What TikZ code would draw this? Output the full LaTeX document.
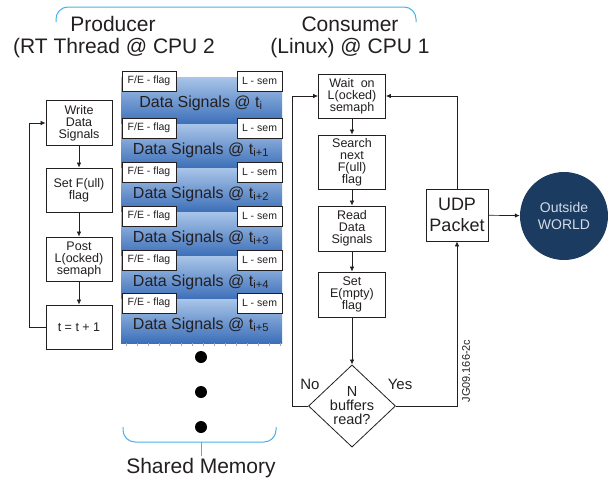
\documentclass[tikz,border=0pt]{standalone}
\usepackage{fontspec}
\setmainfont{Liberation Sans}
\usetikzlibrary{shapes.geometric,arrows.meta}
\definecolor{inkgray}{HTML}{231F20}
\definecolor{bracecyan}{HTML}{45B4E6}
\definecolor{memlight}{HTML}{A9C5E8}
\definecolor{memdark}{HTML}{3C6FB9}
\definecolor{worldnavy}{HTML}{1B3B60}
\definecolor{worldtext}{HTML}{D3DCE8}
\newcommand{\fsz}[1]{\fontsize{#1}{#1}\selectfont}
\begin{document}
\begin{tikzpicture}[x=1pt,y=-1pt,text=inkgray,
	flowbox/.style={draw=inkgray,line width=0.8pt,fill=white,align=center,inner sep=1pt,minimum width=66pt,font=\fontsize{12.5}{12}\selectfont},
	tagbox/.style={draw=inkgray,line width=0.8pt,fill=white,inner sep=1pt,minimum height=20pt,font=\fsz{10.5}},
	flow/.style={draw=inkgray,line width=0.7pt,-{Latex[length=5pt,width=4.5pt]}},
	brace/.style={draw=bracecyan,line width=1pt,rounded corners=12pt},
	title/.style={font=\fsz{21}}]
		\useasboundingbox (0,0) rectangle (610,485);
		
		% headings
		\draw[brace] (56,22) -- (56,7) -- (416,7) -- (416,22);
		\node[title] (prod) at (113,24) {Producer};
		\node[title] (prodcpu) at (114,48) {(RT Thread @ CPU 2};
		\node[title] (cons) at (350,24) {Consumer};
		\node[title] (conscpu) at (350,48) {(Linux) @ CPU 1};
		
		% shared memory buffers
		\foreach \f/\sub/\bot [count=\k] in {81/i/124,128/i+1/168,172/i+2/212,216/i+3/256,260/i+4/299,303/i+5/343}{
			\shade[top color=memlight,bottom color=memdark] (121,\f-4) rectangle (282,\bot);
			\node[tagbox,minimum width=54pt] (fe\k) at (149,\f) {F/E - flag};
			\node[tagbox,minimum width=45pt] (ls\k) at (259.5,\f) {L - sem};
			\node[font=\fsz{16}] (ds\k) at (201,\f+22) {Data Signals @ t\textsubscript{\sub}};
		}
		\foreach \x in {126,137,...,280}
			\draw[black!35,line width=0.4pt] (\x,343) -- (\x,346);
		\foreach \y in {357,392,427}
			\fill[black] (201,\y) circle (6pt);
		\draw[brace] (123,427) -- (123,442) -- (276,442) -- (276,427);
		\draw[bracecyan,line width=1pt] (201,442) -- (201,456);
		\node[font=\fsz{21}] (shmem) at (201,468) {Shared Memory};
		
		% producer loop
		\node[flowbox,minimum height=45pt] (write) at (79,123) {Write\\Data\\Signals};
		\node[flowbox,minimum height=44pt] (setfull) at (79,190) {Set F(ull)\\flag};
		\node[flowbox,minimum height=44pt] (post) at (79,259) {Post\\L(ocked)\\semaph};
		\node[flowbox,minimum height=44pt] (tinc) at (79,327) {t = t + 1};
		\draw[flow] (write) -- (setfull);
		\draw[flow] (setfull) -- (post);
		\draw[flow] (post) -- (tinc);
		\draw[flow] (tinc.west) -- ++(-16,0) |- (write.west);
		
		% consumer loop
		\node[flowbox,minimum width=67pt,minimum height=44pt] (wait) at (352,96) {Wait~ on\\L(ocked)\\semaph};
		\node[flowbox,minimum width=67pt,minimum height=54pt] (search) at (352,162) {Search\\next\\F(ull)\\flag};
		\node[flowbox,minimum width=67pt,minimum height=45pt] (read) at (352,228.5) {Read\\Data\\Signals};
		\node[flowbox,minimum width=67pt,minimum height=45pt] (setempty) at (352,294.5) {Set\\E(mpty)\\flag};
		\node[diamond,draw=inkgray,line width=0.8pt,minimum width=87pt,minimum height=70pt,inner sep=0pt,align=center,font=\fontsize{14.5}{14}\selectfont] (nread) at (352,406) {N\\buffers\\read?};
		\node[font=\fsz{15}] (nolbl) at (310,384) {No};
		\node[font=\fsz{15}] (yeslbl) at (400,384) {Yes};
		\draw[flow] (wait) -- (search);
		\draw[flow] (search) -- (read);
		\draw[flow] (read) -- (setempty);
		\draw[flow] (setempty) -- (nread);
		\draw[flow] (nread.west) -- ++(-16,0) |- (wait.west);
		
		% output
		\node[flowbox,minimum width=62pt,minimum height=52pt,font=\fontsize{18}{21}\selectfont] (udp) at (457,215) {UDP\\Packet};
		\node[circle,fill=worldnavy,minimum size=88pt,inner sep=0pt,text=worldtext,align=center,font=\fontsize{14}{17.5}\selectfont] (world) at (564,216) {Outside\\WORLD};
		\draw[flow] (nread.east) -| (udp.south);
		\draw[flow] (udp.north) |- (wait.east);
		\draw[flow] (udp) -- (world);
		\node[rotate=90,font=\fsz{11}] (jg) at (466,371) {JG09.166-2c};
	\end{tikzpicture}
\end{document}
